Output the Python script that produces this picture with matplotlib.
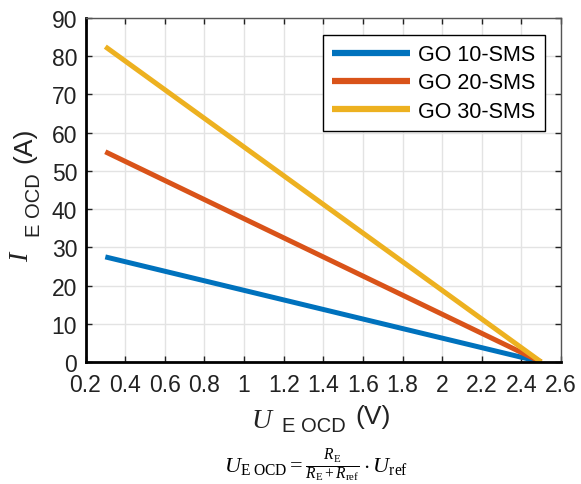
import matplotlib
matplotlib.use("Agg")
import matplotlib.pyplot as plt

# Data
u_points = [0.3, 2.5]
series_names = ["GO 10-SMS", "GO 20-SMS", "GO 30-SMS"]
i_go10 = [27.5, 0.0]
i_go20 = [55.0, 0.0]
i_go30 = [82.5, 0.0]
x_ticks = [0.2, 0.4, 0.6, 0.8, 1, 1.2, 1.4, 1.6, 1.8, 2, 2.2, 2.4, 2.6]
x_ticklabels = ["0.2", "0.4", "0.6", "0.8", "1", "1.2", "1.4", "1.6", "1.8", "2", "2.2", "2.4", "2.6"]
y_ticks = [0, 10, 20, 30, 40, 50, 60, 70, 80, 90]

colors = ["#0072BD", "#D95319", "#EDB120"]

plt.rcParams['font.family'] = ['Liberation Sans', 'DejaVu Sans']
plt.rcParams['mathtext.fontset'] = 'custom'
plt.rcParams['mathtext.rm'] = 'Liberation Serif'
plt.rcParams['mathtext.it'] = 'Liberation Serif:italic'
plt.rcParams['mathtext.sf'] = 'Liberation Sans'

fig = plt.figure(figsize=(5.81, 4.85), dpi=100)
W, H = 581, 485
left, right, top, bottom = 85.5, 561, 19, 363
ax = fig.add_axes([left / W, 1 - bottom / H, (right - left) / W, (bottom - top) / H])

for ys, name, c in zip([i_go10, i_go20, i_go30], series_names, colors):
    ax.plot(u_points, ys, color=c, lw=3.6, label=name, solid_capstyle='butt')

ax.set_xlim(0.2, 2.6)
ax.set_ylim(0, 90)
ax.set_xticks(x_ticks)
ax.set_xticklabels(x_ticklabels)
ax.set_yticks(y_ticks)
ax.tick_params(direction='in', length=4, width=1, labelsize=16.5, top=True, right=True,
               colors='#222222', labelcolor='#222222')
ax.tick_params(axis='x', pad=8)
ax.tick_params(axis='y', pad=6)
ax.grid(True, color='#e3e3e3', lw=1)
ax.set_axisbelow(True)
for s in ['left', 'bottom']:
    ax.spines[s].set_linewidth(2.0)
    ax.spines[s].set_color('black')
for s in ['top', 'right']:
    ax.spines[s].set_linewidth(1.0)
    ax.spines[s].set_color('#555555')

leg = ax.legend(loc='upper right', bbox_to_anchor=(0.966, 0.9506), fontsize=15.5,
                frameon=True, fancybox=False, edgecolor='black', framealpha=1,
                handlelength=3.6, handletextpad=0.4, borderpad=0.42, labelspacing=0.34,
                borderaxespad=0)
leg.get_frame().set_linewidth(1.0)
for line in leg.get_lines():
    line.set_linewidth(4.5)


def ptext(x, y, s, **kw):
    return fig.text(x / W, 1 - y / H, s, **kw)


tc = '#222222'
# X label pieces
ptext(251, 428, r'$U$', fontsize=20, ha='left', va='baseline', color=tc)
ptext(282, 432, 'E OCD', fontsize=14.5, ha='left', va='baseline', color=tc)
ptext(355, 424, '(V)', fontsize=19, ha='left', va='baseline', color=tc)

# Y label pieces (rotated)
ptext(28, 262, r'$I$', fontsize=20, ha='left', va='baseline', rotation=90,
      rotation_mode='anchor', color=tc)
ptext(40, 237, 'E OCD', fontsize=14.5, ha='left', va='baseline', rotation=90,
      rotation_mode='anchor', color=tc)
ptext(31, 163, '(A)', fontsize=19, ha='left', va='baseline', rotation=90,
      rotation_mode='anchor', color=tc)

# Formula
ptext(316, 466,
      r'$U_{\mathrm{E\ OCD}} = \frac{R_{\mathrm{E}}}{R_{\mathrm{E}}+R_{\mathrm{ref}}}\cdot U_{\mathrm{ref}}$',
      fontsize=16, ha='center', va='center', color='black')

fig.savefig('out.png', dpi=100)
